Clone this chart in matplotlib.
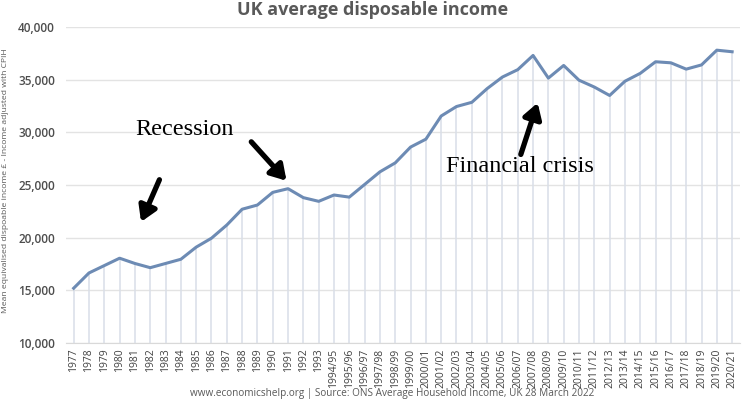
import matplotlib
matplotlib.use("Agg")
import matplotlib.pyplot as plt
import numpy as np

categories = ["1977", "1978", "1979", "1980", "1981", "1982", "1983", "1984", "1985",
              "1986", "1987", "1988", "1989", "1990", "1991", "1992", "1993",
              "1994/95", "1995/96", "1996/97", "1997/98", "1998/99", "1999/00",
              "2000/01", "2001/02", "2002/03", "2003/04", "2004/05", "2005/06",
              "2006/07", "2007/08", "2008/09", "2009/10", "2010/11", "2011/12",
              "2012/13", "2013/14", "2014/15", "2015/16", "2016/17", "2017/18",
              "2018/19", "2019/20", "2020/21"]
income = [15200, 16650, 17350, 18050, 17550, 17150, 17550, 17950, 19100,
          19950, 21200, 22700, 23100, 24300, 24650, 23800, 23450,
          24050, 23850, 25050, 26250, 27100, 28600,
          29350, 31550, 32450, 32850, 34150, 35250,
          35950, 37300, 35150, 36350, 34950, 34300,
          33500, 34850, 35600, 36700, 36600, 36000,
          36400, 37800, 37650]

title = "UK average disposable income"
ylabel = "Mean equivalised dispoable income £ - Income adjusted with CPIH"
source = "www.economicshelp.org | Source: ONS Average Household Income, UK 28 March 2022"

plt.rcParams['font.family'] = ['Open Sans', 'DejaVu Sans']

fig = plt.figure(figsize=(7.45, 4.0), dpi=100)
ax = fig.add_axes([0.0886, 0.1425, 0.9044, 0.79])

x = np.arange(len(categories))
ymin, ymax = 10000, 40000
ax.vlines(x, ymin, income, color="#D9DEE8", lw=1.1, zorder=1)
ax.plot(x, income, color="#6D8BB4", lw=2.2, zorder=3, solid_joinstyle="round")

ax.set_xlim(-0.5, len(categories) - 0.5)
ax.set_ylim(ymin, ymax)
ax.set_yticks(np.arange(10000, 40001, 5000))
ax.set_yticklabels([f"{v:,}" for v in range(10000, 40001, 5000)],
                   fontsize=8.5, color="#4D4D4D", fontweight="semibold")
ax.set_xticks(x)
ax.set_xticklabels(categories, rotation=90, fontsize=7.5, color="#404040")
ax.tick_params(axis="both", length=0, pad=4)
ax.tick_params(axis="y", pad=8)
ax.grid(axis="y", color="#E3E3E3", lw=1.0, zorder=0)
for s in ["top", "right", "left"]:
    ax.spines[s].set_visible(False)
ax.spines["bottom"].set_color("#D9D9D9")
ax.set_axisbelow(True)

ax.set_ylabel(ylabel, fontsize=6.1, color="#595959")
ax.yaxis.set_label_coords(-0.084, 0.515)

fig.text(0.5, 0.998, title, ha="center", va="top", fontsize=13,
         fontweight="bold", color="#595959")
fig.text(0.527, 0.002, source, ha="center", va="bottom", fontsize=7.2,
         color="#595959")

serif = ['Liberation Serif', 'DejaVu Serif']
ax.text(4.0, 30300, "Recession", fontsize=17.5, family=serif, color="black",
        ha="left", va="center")
ax.text(24.3, 26800, "Financial crisis", fontsize=17.5, family=serif,
        color="black", ha="left", va="center")

arrow = dict(arrowstyle="-|>,head_length=0.9,head_width=0.55", color="black",
             lw=3.8, shrinkA=0, shrinkB=0)
ax.annotate("", xy=(4.4, 21500), xytext=(5.6, 25500), arrowprops=arrow)
ax.annotate("", xy=(13.9, 25400), xytext=(11.6, 29100), arrowprops=arrow)
ax.annotate("", xy=(30.3, 32800), xytext=(29.2, 27900), arrowprops=arrow)

fig.savefig("out.png", dpi=100)
